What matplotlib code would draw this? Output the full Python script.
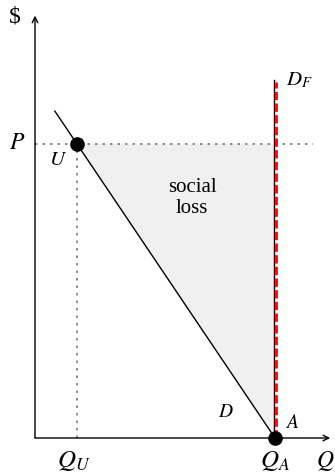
import matplotlib
matplotlib.use("Agg")
import matplotlib.pyplot as plt
from matplotlib.patches import Polygon

plt.rcParams['mathtext.fontset'] = 'stix'
plt.rcParams['font.family'] = ['Liberation Serif', 'DejaVu Serif']

# Data (abstract units)
Q_U = 1.75
Q_A = 10.0
P = 12.25
demand_q = [0.83, Q_A]
demand_p = [P + (Q_U - 0.83) * P / (Q_A - Q_U), 0.0]
DF_top = 14.9
x_axis_end = 12.3
y_axis_end = 17.6

fig = plt.figure(figsize=(3.35, 4.73), dpi=100)
ax = fig.add_axes([0, 0, 1, 1])
ax.set_xlim(-35 / 24, 300 / 24)
ax.set_ylim(-35 / 24, 438 / 24)
ax.axis('off')

# shaded social loss triangle
tri = Polygon([[Q_U, P], [Q_A, P], [Q_A, 0]], closed=True, facecolor='#f0f0f0', edgecolor='none', zorder=1)
ax.add_patch(tri)

# axes with arrows
ax.annotate('', xy=(x_axis_end, 0), xytext=(0, 0),
            arrowprops=dict(arrowstyle='->', lw=1.0, color='black', shrinkA=0, shrinkB=0), zorder=3)
ax.annotate('', xy=(0, y_axis_end), xytext=(0, 0),
            arrowprops=dict(arrowstyle='->', lw=1.0, color='black', shrinkA=0, shrinkB=0), zorder=3)

# dotted guides
ax.plot([0, 11.6], [P, P], linestyle=(0, (1.5, 3)), color='#777777', lw=1.2, zorder=2)
ax.plot([Q_U, Q_U], [0, P], linestyle=(0, (1.5, 3)), color='#777777', lw=1.2, zorder=2)

# demand line
ax.plot(demand_q, demand_p, color='black', lw=1.0, zorder=4)

# D_F line
ax.plot([Q_A - 0.04, Q_A - 0.04], [0, DF_top], color='black', lw=1.0, zorder=4)
ax.plot([Q_A + 0.05, Q_A + 0.05], [0, DF_top - 0.05], color='red', lw=2.0,
        linestyle=(0, (3, 1.2)), zorder=5)

# points
ax.plot([Q_U, Q_A], [P, 0], 'o', color='black', markersize=9.5, zorder=6)

# labels
ax.text(-0.85, 17.55, r'\$', fontsize=17, ha='center', va='center')
ax.text(-0.75, P, r'$P$', fontsize=17, ha='center', va='center')
ax.text(0.95, 11.55, r'$U$', fontsize=15, ha='center', va='center')
ax.text(1.6, -0.95, r'$Q_U$', fontsize=18, ha='center', va='center')
ax.text(Q_A, -0.95, r'$Q_A$', fontsize=18, ha='center', va='center')
ax.text(12.48, -0.95, r'$Q$', fontsize=17, ha='right', va='center')
ax.text(7.97, 1.05, r'$D$', fontsize=14, ha='center', va='center')
ax.text(10.7, 0.62, r'$A$', fontsize=14, ha='center', va='center')
ax.text(11.0, 14.9, r'$D_F$', fontsize=15, ha='center', va='center')
ax.text(6.55, 10.0, 'social\nloss', fontsize=15, ha='center', va='center', linespacing=1.1)

fig.savefig('out.png', dpi=100)
